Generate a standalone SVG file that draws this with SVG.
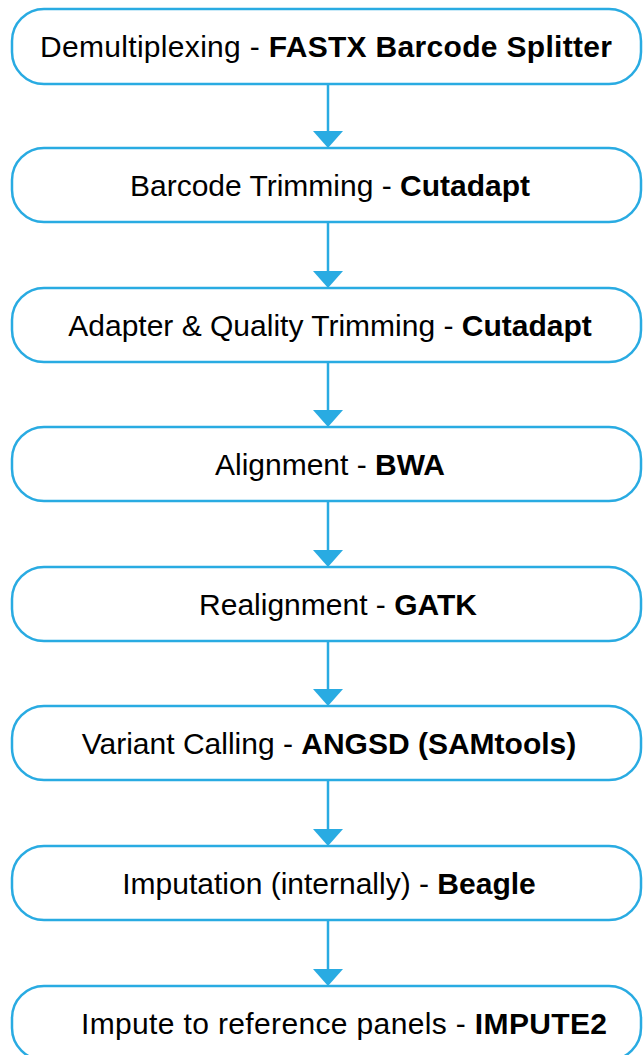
<svg xmlns="http://www.w3.org/2000/svg" width="643" height="1055" viewBox="0 0 643 1055">
<style>
.box{fill:#fff;stroke:#29abe2;stroke-width:2.5}
.lbl{font-family:"Liberation Sans",Arial,sans-serif;font-size:30px;fill:#000;text-anchor:middle}
.b{font-weight:bold}
.conn line{stroke:#29abe2;stroke-width:2.5}
.conn polygon{fill:#29abe2}
</style>
<rect width="643" height="1055" fill="#fff"/>
<g id="connectors" class="conn">
<line x1="328" y1="84" x2="328" y2="134"/><polygon points="313,131 343,131 328,148"/>
<line x1="328" y1="222" x2="328" y2="274"/><polygon points="313,271 343,271 328,288"/>
<line x1="328" y1="362" x2="328" y2="413"/><polygon points="313,410 343,410 328,427"/>
<line x1="328" y1="501" x2="328" y2="553"/><polygon points="313,550 343,550 328,567"/>
<line x1="328" y1="641" x2="328" y2="692"/><polygon points="313,689 343,689 328,706"/>
<line x1="328" y1="780" x2="328" y2="832"/><polygon points="313,829 343,829 328,846"/>
<line x1="328" y1="920" x2="328" y2="972"/><polygon points="313,969 343,969 328,986"/>
</g>
<g id="n1"><rect class="box" x="12" y="9" width="629" height="75" rx="32"/><text class="lbl" x="326" y="57" textLength="572">Demultiplexing - <tspan class="b">FASTX Barcode Splitter</tspan></text></g>
<g id="n2"><rect class="box" x="12" y="148" width="629" height="74" rx="32"/><text class="lbl" x="330" y="196">Barcode Trimming - <tspan class="b">Cutadapt</tspan></text></g>
<g id="n3"><rect class="box" x="12" y="288" width="629" height="74" rx="32"/><text class="lbl" x="330" y="336">Adapter &amp; Quality Trimming - <tspan class="b">Cutadapt</tspan></text></g>
<g id="n4"><rect class="box" x="12" y="427" width="629" height="74" rx="32"/><text class="lbl" x="330" y="475">Alignment - <tspan class="b">BWA</tspan></text></g>
<g id="n5"><rect class="box" x="12" y="567" width="629" height="74" rx="32"/><text class="lbl" x="338" y="615">Realignment - <tspan class="b">GATK</tspan></text></g>
<g id="n6"><rect class="box" x="12" y="706" width="629" height="74" rx="32"/><text class="lbl" x="329" y="754">Variant Calling - <tspan class="b">ANGSD (SAMtools)</tspan></text></g>
<g id="n7"><rect class="box" x="12" y="846" width="629" height="74" rx="32"/><text class="lbl" x="329" y="894">Imputation (internally) - <tspan class="b">Beagle</tspan></text></g>
<g id="n8"><rect class="box" x="12" y="986" width="629" height="74" rx="32"/><text class="lbl" x="344" y="1034" textLength="526">Impute to reference panels - <tspan class="b">IMPUTE2</tspan></text></g>
</svg>
